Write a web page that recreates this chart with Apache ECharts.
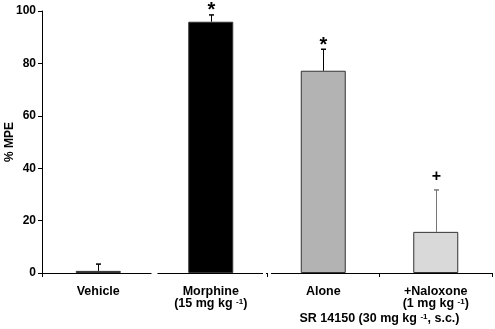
<!DOCTYPE html>
<html><head><meta charset="utf-8">
<script src="https://cdn.jsdelivr.net/npm/echarts@6/dist/echarts.min.js"></script>
<style>html,body{margin:0;padding:0;background:#fff}#c{width:495px;height:329px}</style>
</head><body><div id="c"></div>
<script>
const categories = ['Vehicle', 'Morphine', 'Alone', '+Naloxone'];
const doseLines = ['', '(15 mg kg', '', '(1 mg kg'];
const means = [0.8, 95.9, 77.2, 15.7];
const sem = [2.6, 2.6, 8.2, 16.0];
const marks = ['', '*', '*', '+'];
const barColors = ['#000000', '#000000', '#b3b3b3', '#d9d9d9'];
const errColors = ['#000000', '#000000', '#000000', '#777777'];
const yTicks = [0, 20, 40, 60, 80, 100];
const yTitle = '% MPE';
const groupLabel = 'SR 14150 (30 mg kg';

const FONT = 'Liberation Sans, Arial, sans-serif';
const chart = echarts.init(document.getElementById('c'));

const supRich = {
  d: { fontFamily: FONT, fontWeight: 'bold', fontSize: 12.5, color: '#000', lineHeight: 12 },
  s: { fontFamily: FONT, fontWeight: 'bold', fontSize: 8, color: '#000', verticalAlign: 'top', lineHeight: 12, padding: [0, 0, 6, 0] }
};

const option = {
  animation: false,
  grid: { left: 42, right: 3, top: 11, bottom: 56, containLabel: false, outerBoundsMode: 'none' },
  xAxis: {
    type: 'category', data: categories, boundaryGap: true,
    axisLine: { lineStyle: { color: '#000', width: 1 } },
    axisTick: { show: true, length: 4, lineStyle: { color: '#000' }, inside: false },
    axisLabel: {
      interval: 0, margin: 13, color: '#000', fontFamily: FONT, fontWeight: 'bold', fontSize: 12.5, lineHeight: 12,
      formatter: (v, i) => doseLines[i] ? '{d|' + v + '}\n{d|' + doseLines[i] + ' }{s|-1}{d|)}' : v,
      rich: supRich
    }
  },
  yAxis: {
    type: 'value', min: 0, max: 100, interval: 20,
    axisLine: { show: true, lineStyle: { color: '#000' } },
    axisTick: { show: true, length: 4, lineStyle: { color: '#000' } },
    splitLine: { show: false },
    axisLabel: { color: '#000', fontFamily: FONT, fontWeight: 'bold', fontSize: 12, margin: 6,
      formatter: v => yTicks.includes(v) ? String(v) : '' }
  },
  series: [
    {
      type: 'bar', barWidth: '40%',
      data: means.map((v, i) => ({ value: v, itemStyle: { color: barColors[i], borderColor: '#333', borderWidth: 1 } })),
      z: 2
    },
    {
      type: 'custom', z: 3, clip: false,
      data: means.map((m, i) => [i, m, m + sem[i]]),
      renderItem: (params, api) => {
        const lo = api.coord([api.value(0), api.value(1)]);
        const hi = api.coord([api.value(0), api.value(2)]);
        const i = params.dataIndex;
        const c = errColors[i];
        const x = Math.round(lo[0]) + 0.5;
        const children = [
          { type: 'line', shape: { x1: x, y1: lo[1], x2: x, y2: hi[1] }, style: { stroke: c, lineWidth: 1 } },
          { type: 'line', shape: { x1: x - 2.5, y1: hi[1], x2: x + 2.5, y2: hi[1] }, style: { stroke: c, lineWidth: 1.5 } }
        ];
        if (marks[i]) {
          const isStar = marks[i] === '*';
          children.push({ type: 'text', style: {
            text: marks[i], x: x, y: hi[1] - (isStar ? 4 : 13),
            align: 'center', verticalAlign: 'middle',
            font: 'bold ' + (isStar ? 20 : 16) + 'px ' + FONT, fill: '#000'
          }});
        }
        return { type: 'group', children };
      }
    }
  ]
};
chart.setOption(option);

const p0 = chart.convertToPixel({ xAxisIndex: 0 }, 0);
const p1 = chart.convertToPixel({ xAxisIndex: 0 }, 1);
const p2 = chart.convertToPixel({ xAxisIndex: 0 }, 2);
const p3 = chart.convertToPixel({ xAxisIndex: 0 }, 3);
const yBase = chart.convertToPixel({ yAxisIndex: 0 }, 0);
const yMid = chart.convertToPixel({ yAxisIndex: 0 }, 50);
const b01 = (p0 + p1) / 2;
const b12 = (p1 + p2) / 2;
chart.setOption({
  graphic: [
    { type: 'rect', shape: { x: b01 - 3, y: yBase - 2, width: 6, height: 8 }, style: { fill: '#fff' }, z: 100 },
    { type: 'rect', shape: { x: b12 - 4, y: yBase - 2, width: 3, height: 4 }, style: { fill: '#fff' }, z: 100 },
    { type: 'rect', shape: { x: b12 + 1, y: yBase - 2, width: 3, height: 4 }, style: { fill: '#fff' }, z: 100 },
    { type: 'text', z: 100, x: 10, y: yMid, rotation: Math.PI / 2, style: {
      text: yTitle, x: 0, y: 0, align: 'center', verticalAlign: 'middle',
      font: 'bold 12px ' + FONT, fill: '#000'
    }},
    { type: 'text', z: 100, style: {
      x: (p2 + p3) / 2, y: 319, align: 'center', verticalAlign: 'middle',
      text: '{d|' + groupLabel + ' }{s|-1}{d|, s.c.)}',
      rich: {
        d: { fontFamily: FONT, fontWeight: 'bold', fontSize: 12.5, fill: '#000', lineHeight: 12 },
        s: { fontFamily: FONT, fontWeight: 'bold', fontSize: 8, fill: '#000', verticalAlign: 'top', lineHeight: 12, padding: [0, 0, 6, 0] }
      }
    }}
  ]
});
</script></body></html>
